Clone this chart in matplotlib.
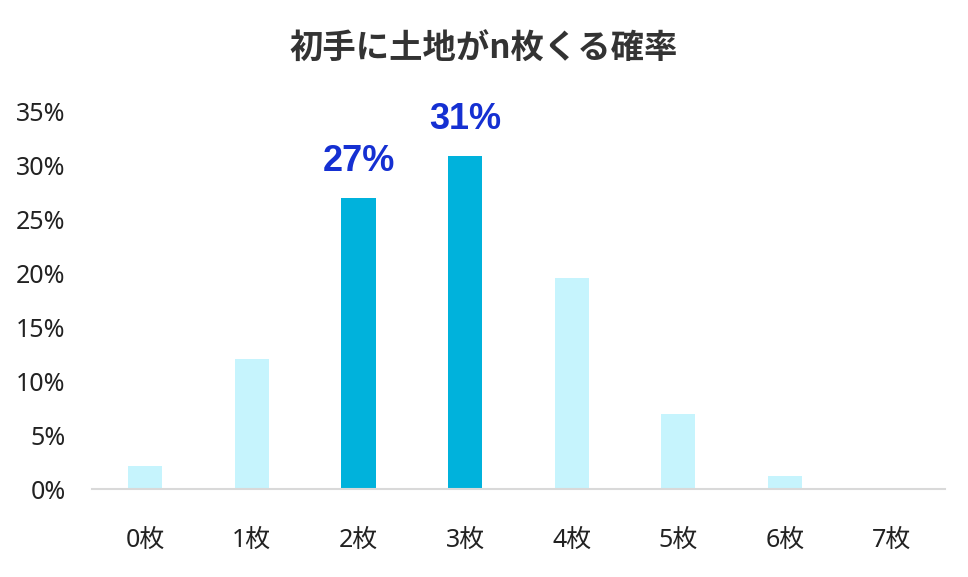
import matplotlib.pyplot as plt
from matplotlib.ticker import FuncFormatter

plt.rcParams['font.family'] = ['Noto Sans', 'Noto Sans CJK JP', 'DejaVu Sans']

# data
categories = ['0枚', '1枚', '2枚', '3枚', '4枚', '5枚', '6枚', '7枚']
probs = [2.1, 12.1, 27.0, 30.9, 19.6, 7.0, 1.2, 0.1]
highlight = [False, False, True, True, False, False, False, False]
labels = ['', '', '27%', '31%', '', '', '', '']

light = '#C6F4FD'
dark = '#00B2DC'
colors = [dark if h else light for h in highlight]

fig = plt.figure(figsize=(9.68, 5.77), dpi=100)
ax = fig.add_axes([0.095, 0.1525, 0.881, 0.6535])

x = range(len(categories))
bars = ax.bar(x, probs, width=0.32, color=colors)

for b, lab in zip(bars, labels):
    if lab:
        ax.annotate(lab, (b.get_x() + b.get_width() / 2, b.get_height()),
                    xytext=(0, 14), textcoords='offset points',
                    ha='center', va='bottom', fontsize=26, fontweight='bold',
                    color='#1530D2', family=['Liberation Sans', 'DejaVu Sans'])

ax.set_xlim(-0.5, 7.5)
ax.set_ylim(0, 35)
ax.set_yticks(range(0, 36, 5))
ax.yaxis.set_major_formatter(FuncFormatter(lambda v, p: f'{int(v)}%'))
ax.set_xticks(list(x))
ax.set_xticklabels(categories)

for s in ['top', 'right', 'left']:
    ax.spines[s].set_visible(False)
ax.spines['bottom'].set_color('#D9D9D9')
ax.spines['bottom'].set_linewidth(1.5)
ax.tick_params(axis='both', length=0, labelsize=18, colors='#222222')
ax.tick_params(axis='x', pad=28)
ax.tick_params(axis='y', pad=19)

fig.text(0.5, 0.915, '初手に土地がn枚くる確率', ha='center', va='center',
         fontsize=24, fontweight='bold', color='#333333',
         family=['Noto Sans CJK JP', 'DejaVu Sans'])

plt.savefig('out.png', dpi=100)
